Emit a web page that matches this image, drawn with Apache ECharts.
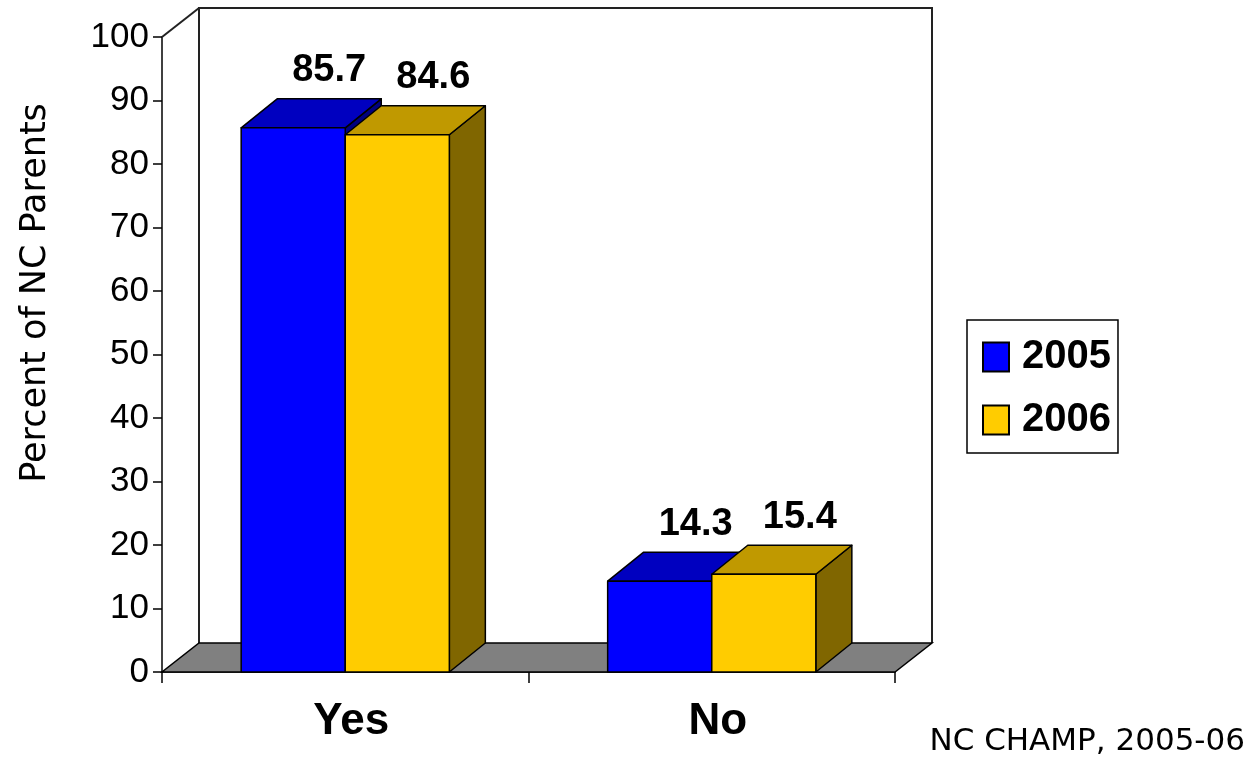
<!DOCTYPE html>
<html>
<head>
<meta charset="utf-8">
<script src="https://cdn.jsdelivr.net/npm/echarts@6/dist/echarts.min.js"></script>
<style>
html,body{margin:0;padding:0;background:#fff;}
#chart{width:1257px;height:761px;}
</style>
</head>
<body>
<div id="chart"></div>
<script>
// ---- data ----
const categories = ['Yes', 'No'];
const seriesNames = ['2005', '2006'];
const values2005 = [85.7, 14.3];
const values2006 = [84.6, 15.4];
const yTicks = [0, 10, 20, 30, 40, 50, 60, 70, 80, 90, 100];
const yTitle = 'Percent of NC Parents';
const sourceNote = 'NC CHAMP, 2005-06';

// ---- style ----
const BAR_DX = 36, BAR_DY = -29;   // bar depth
const WALL_DX = 37, WALL_DY = -29; // wall depth
const BAR_FRAC = 0.284;            // bar width as fraction of band
const colors = {
  '2005': {front: '#0000FF', top: '#0000C0', side: '#000080'},
  '2006': {front: '#FFCC00', top: '#C09900', side: '#806600'}
};

const chart = echarts.init(document.getElementById('chart'));

function frameRender(params, api) {
  const bandW = api.size([1, 0])[0];
  const p0 = api.coord([0, yTicks[0]]);
  const p1 = api.coord([categories.length - 1, yTicks[0]]);
  const pt = api.coord([0, yTicks[yTicks.length - 1]]);
  const L = p0[0] - bandW / 2, R = p1[0] + bandW / 2, B = p0[1], T = pt[1];
  const ls = {stroke: '#222', lineWidth: 2, fill: null};
  return {
    type: 'group',
    children: [
      {type: 'polyline', shape: {points: [[L + WALL_DX, B + WALL_DY], [L + WALL_DX, T + WALL_DY], [R + WALL_DX, T + WALL_DY], [R + WALL_DX, B + WALL_DY]]}, style: ls},
      {type: 'line', shape: {x1: L, y1: T, x2: L + WALL_DX, y2: T + WALL_DY}, style: ls},
      {type: 'polygon', shape: {points: [[L, B], [R, B], [R + WALL_DX, B + WALL_DY], [L + WALL_DX, B + WALL_DY]]}, style: {fill: '#808080', stroke: '#000', lineWidth: 1.5}}
    ]
  };
}

function makeBarRender(name, slot) {
  const c = colors[name];
  return function (params, api) {
    const ci = api.value(0), v = api.value(1);
    const base = api.coord([ci, 0]);
    const top = api.coord([ci, v]);
    const bandW = api.size([1, 0])[0];
    const bw = bandW * BAR_FRAC;
    const x0 = base[0] - bw + slot * bw, x1 = x0 + bw;
    const ty = top[1], by = base[1];
    const st = {stroke: '#000', lineWidth: 1.5, lineJoin: 'round'};
    return {
      type: 'group',
      children: [
        {type: 'polygon', shape: {points: [[x1, ty], [x1 + BAR_DX, ty + BAR_DY], [x1 + BAR_DX, by + BAR_DY], [x1, by]]}, style: Object.assign({fill: c.side}, st)},
        {type: 'polygon', shape: {points: [[x0, ty], [x0 + BAR_DX, ty + BAR_DY], [x1 + BAR_DX, ty + BAR_DY], [x1, ty]]}, style: Object.assign({fill: c.top}, st)},
        {type: 'rect', shape: {x: x0, y: ty, width: bw, height: by - ty}, style: Object.assign({fill: c.front}, st)},
        {type: 'text', style: {x: (x0 + x1) / 2 + BAR_DX, y: ty + BAR_DY - 28, text: String(v), align: 'center', verticalAlign: 'middle', font: 'bold 38px "Liberation Sans", Arial, sans-serif', fill: '#000'}}
      ]
    };
  };
}

const option = {
  animation: false,
  backgroundColor: '#fff',
  grid: {left: 162, top: 37, width: 733, height: 635, containLabel: false},
  xAxis: {
    type: 'category',
    data: categories,
    boundaryGap: true,
    axisLine: {show: true, lineStyle: {color: '#000', width: 1.5}},
    axisTick: {show: true, length: 11, lineStyle: {color: '#000', width: 1.5}},
    axisLabel: {fontSize: 44, fontWeight: 'bold', color: '#000', fontFamily: '"Liberation Sans", Arial, sans-serif', margin: 28, lineHeight: 44, padding: [0, 0, 0, 12]},
    splitLine: {show: false}
  },
  yAxis: {
    type: 'value',
    min: 0, max: 100, interval: 10,
    axisLine: {show: true, lineStyle: {color: '#000', width: 1.5}},
    axisTick: {show: true, length: 9, lineStyle: {color: '#000', width: 1.5}},
    axisLabel: {fontSize: 35, color: '#000', fontFamily: '"Liberation Sans", Arial, sans-serif', margin: 13},
    splitLine: {show: false}
  },
  legend: {
    data: seriesNames,
    orient: 'vertical',
    left: 967, top: 320,
    padding: [17, 7, 13, 15],
    itemWidth: 26, itemHeight: 29, itemGap: 23,
    borderColor: '#000', borderWidth: 1.5,
    icon: 'rect',
    selectedMode: false,
    textStyle: {fontSize: 40, fontWeight: 'bold', color: '#000', fontFamily: '"Liberation Sans", Arial, sans-serif', lineHeight: 40, padding: [0, 0, 0, 8]}
  },
  graphic: [
    {
      type: 'text', x: 36, y: 293, rotation: Math.PI / 2,
      style: {text: yTitle, font: '35px "DejaVu Sans", Verdana, sans-serif', fill: '#000', align: 'center', verticalAlign: 'middle'}
    },
    {
      type: 'text', right: 12, top: 726,
      style: {text: sourceNote, font: '31px "DejaVu Sans", Verdana, sans-serif', fill: '#000'}
    }
  ],
  series: [
    {type: 'custom', name: 'frame', renderItem: frameRender, data: [[0, 0]], silent: true, z: 1},
    {type: 'custom', name: seriesNames[0], renderItem: makeBarRender(seriesNames[0], 0),
      itemStyle: {color: colors['2005'].front, borderColor: '#000', borderWidth: 1},
      data: values2005.map((v, i) => [i, v]), z: 2},
    {type: 'custom', name: seriesNames[1], renderItem: makeBarRender(seriesNames[1], 1),
      itemStyle: {color: colors['2006'].front, borderColor: '#000', borderWidth: 1},
      data: values2006.map((v, i) => [i, v]), z: 3}
  ]
};
chart.setOption(option);
</script>
</body>
</html>
